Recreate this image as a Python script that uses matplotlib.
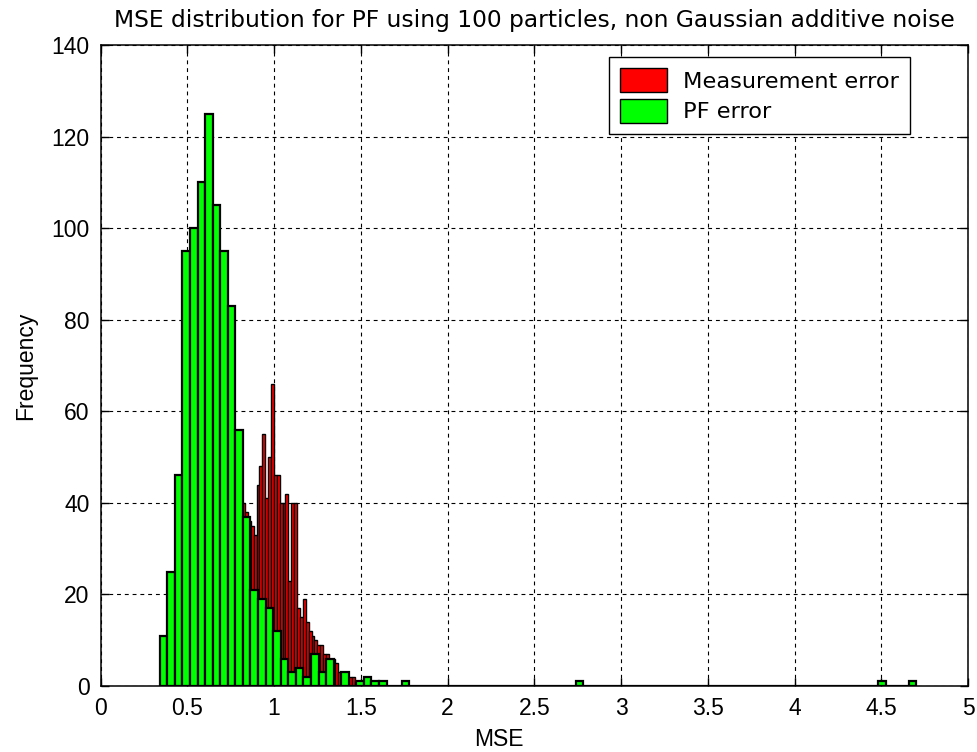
import numpy as np
import matplotlib
matplotlib.use('Agg')
import matplotlib.pyplot as plt

plt.rcParams['font.family'] = ['Liberation Sans', 'DejaVu Sans']

# ---------- data ----------
# PF error histogram: 100 equal bins starting at 0.341
pf_start = 0.341
pf_width = 0.0436
pf_counts = [11, 25, 46, 95, 100, 110, 125, 105, 95, 83,
             56, 37, 21, 19, 17, 12, 6, 3, 4, 2,
             7, 3, 6, 0, 3, 0, 1, 2, 1, 1,
             0, 0, 1, 0, 0, 0, 0, 0, 0, 0,
             0, 0, 0, 0, 0, 0, 0, 0, 0, 0,
             0, 0, 0, 0, 0, 1, 0, 0, 0, 0,
             0, 0, 0, 0, 0, 0, 0, 0, 0, 0,
             0, 0, 0, 0, 0, 0, 0, 0, 0, 0,
             0, 0, 0, 0, 0, 0, 0, 0, 0, 0,
             0, 0, 0, 0, 0, 1, 0, 0, 0, 1]

# measurement error histogram: narrower bins, only the visible part
meas_start = 0.8156
meas_width = 0.0167
meas_counts = [40, 38, 36, 35, 33, 44, 48, 55, 41, 50,
               66, 46, 46, 40, 40, 42, 23, 40, 40, 17,
               15, 19, 14, 12, 11, 10, 9, 9, 7, 7,
               6, 6, 5, 3, 3, 2, 2, 2, 2, 1,
               1, 0, 1]

labels = ['Measurement error', 'PF error']
title = 'MSE distribution for PF using 100 particles, non Gaussian additive noise'

pf_left = pf_start + pf_width * np.arange(len(pf_counts))
meas_left = meas_start + meas_width * np.arange(len(meas_counts))

# ---------- plot ----------
fig = plt.figure(figsize=(9.77, 7.52), dpi=100)
ax = fig.add_axes([0.1029, 0.0878, 0.8879, 0.8524])

ax.bar(meas_left, meas_counts, width=meas_width, align='edge',
       color='#ff0000', edgecolor='black', linewidth=1.0, label=labels[0], zorder=2)
ax.bar(pf_left, pf_counts, width=pf_width, align='edge',
       color='#00ff00', edgecolor='black', linewidth=1.6, label=labels[1], zorder=3)

ax.set_xlim(0, 5)
ax.set_ylim(0, 140)
ax.set_xticks(np.arange(0, 5.01, 0.5))
ax.set_xticklabels(['0', '0.5', '1', '1.5', '2', '2.5', '3', '3.5', '4', '4.5', '5'])
ax.set_yticks(np.arange(0, 141, 20))

ax.set_axisbelow(True)
ax.grid(True, color='black', linestyle=(0, (3.5, 3.5)), linewidth=0.8)
ax.tick_params(direction='in', length=6, width=1, top=True, right=True,
               labelsize=16.5, pad=8)
for s in ax.spines.values():
    s.set_linewidth(1.1)

ax.set_title(title, fontsize=16.8, pad=13, family='DejaVu Sans')
ax.set_xlabel('MSE', fontsize=16.5)
ax.xaxis.set_label_coords(0.459, -0.066)
ax.set_ylabel('Frequency', fontsize=16.5, labelpad=10)

leg = ax.legend(loc='upper right', bbox_to_anchor=(0.9331, 0.981),
                prop={'family': 'DejaVu Sans', 'size': 16.2},
                frameon=True, fancybox=False, framealpha=1,
                edgecolor='black', handlelength=2.1, handleheight=1.25,
                handletextpad=0.7, labelspacing=0.3, borderpad=0.5,
                borderaxespad=0)
leg.get_frame().set_linewidth(1.0)
for p in leg.get_patches():
    p.set_linewidth(1.0)

fig.savefig('out.png', dpi=100)
